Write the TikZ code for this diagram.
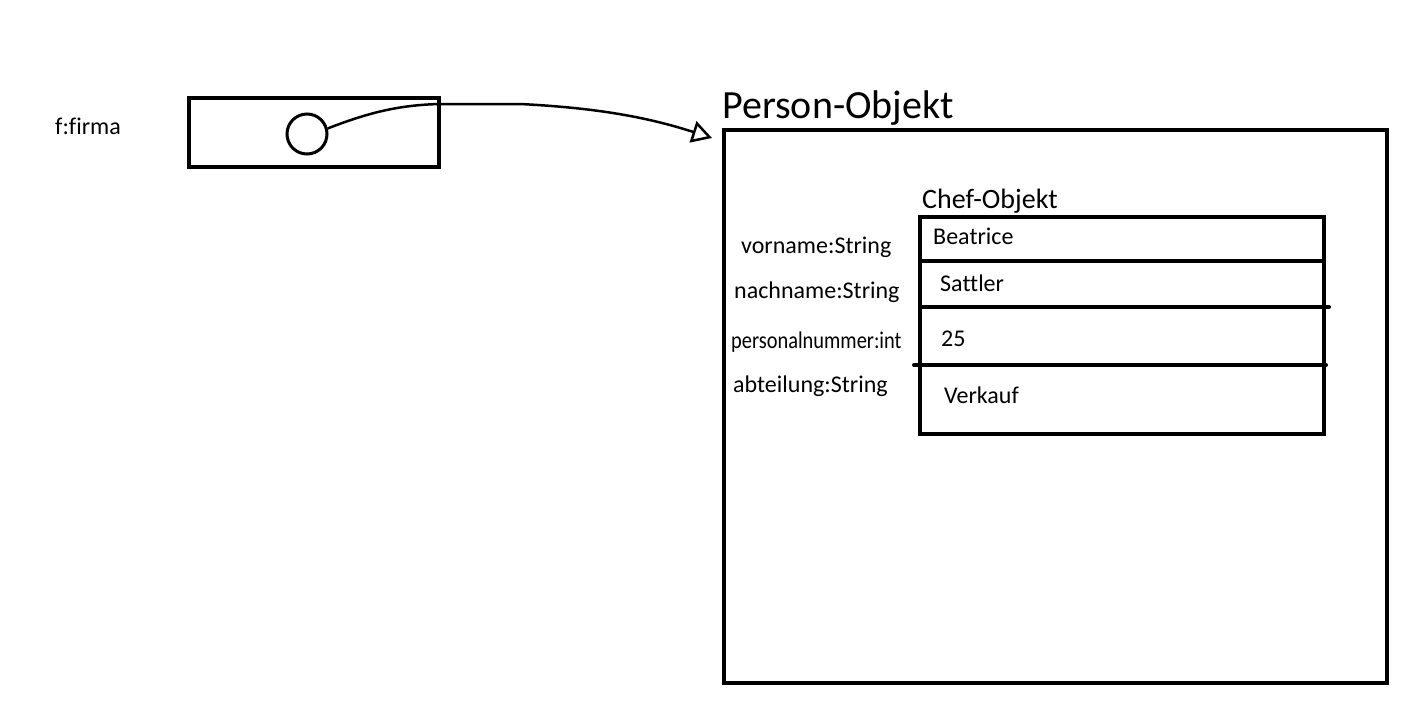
\documentclass[tikz,border=0pt]{standalone}
\usepackage{fontspec}
\setmainfont[Ligatures = NoCommon]{Carlito}
\usetikzlibrary{arrows.meta}

\tikzset{
	objbox/.style = {draw = black, line width = 4pt, inner sep = 0pt, anchor = north west},
	divider/.style = {line width = 4pt, line cap = round},
	label/.style = {anchor = base west, inner sep = 0pt, font = \fontsize{24}{28}\selectfont},
	title/.style = {anchor = base west, inner sep = 0pt}
}

\begin{document}
\begin{tikzpicture}[x = 1pt, y = -1pt]
	
		\useasboundingbox (0, 0) rectangle (1408, 709);
		
		\node[label] (fname) at (55, 134) {f:firma};
		\node[objbox, minimum width = 250, minimum height = 69] (var) at (187, 96) {};
		\node[draw, circle, line width = 3pt, minimum size = 40, inner sep = 0pt] (ref) at (307, 134) {};
		
		\node[objbox, minimum width = 663, minimum height = 553] (person) at (722, 128) {};
		\node[title, font = \fontsize{40}{44}\selectfont] (persontitle) at (722, 118) {Person-Objekt};
		
		\draw[line width = 2.5pt, -{Triangle[open, length = 20pt, width = 22pt, line width = 2.5pt]}]
			(ref.15) .. controls (370, 112) and (400, 105) .. (440, 104) -- (520, 104)
			.. controls (600, 108) and (650, 118) .. ([shift = {(-10, 10)}]person.north west);
		
		\node[objbox, minimum width = 404, minimum height = 217] (chef) at (918, 215) {};
		\node[title, font = \fontsize{28}{32}\selectfont] (cheftitle) at (922, 208) {Chef-Objekt};
		
		\draw[line width = 4pt] (chef.west |- 0, 261) -- (chef.east |- 0, 261);
		\draw[divider] (920, 307) -- (1329, 307);
		\draw[divider] (914, 365) -- (1326, 365);
		
		\node[label] (vorname) at (741, 253) {vorname:String};
		\node[label] (nachname) at (734, 298) {nachname:String};
		\node[label] (pnr) at (731, 348) {\scalebox{0.85}[1]{personalnummer:int}};
		\node[label] (abteilung) at (733, 392) {abteilung:String};
		
		\node[label] (vval) at (933, 244) {Beatrice};
		\node[label] (nval) at (940, 291) {Sattler};
		\node[label] (pval) at (941, 346) {25};
		\node[label] (aval) at (944, 403) {Verkauf};
	
	\end{tikzpicture}
\end{document}
